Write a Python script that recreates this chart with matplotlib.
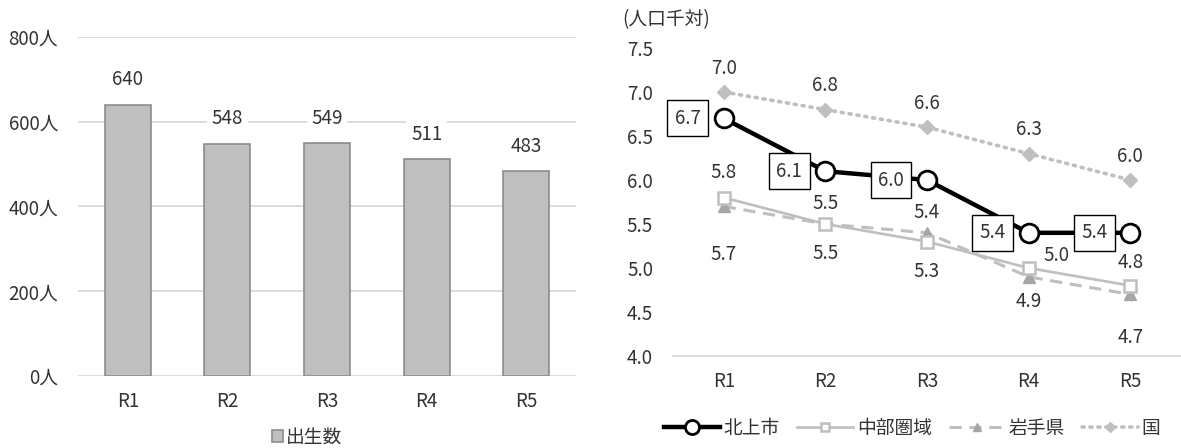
import matplotlib.pyplot as plt

plt.rcParams['font.family'] = ['Noto Sans CJK JP', 'DejaVu Sans']

years = ["R1", "R2", "R3", "R4", "R5"]
births = [640, 548, 549, 511, 483]

kitakami = [6.7, 6.1, 6.0, 5.4, 5.4]
chubu = [5.8, 5.5, 5.3, 5.0, 4.8]
iwate = [5.7, 5.5, 5.4, 4.9, 4.7]
japan = [7.0, 6.8, 6.6, 6.3, 6.0]

PX = 0.72  # pixels -> points at dpi 100
FS = 13.5
TXT = "#333333"

fig = plt.figure(figsize=(11.81, 4.48), dpi=100)

# ---- left: bar chart ----
ax1 = fig.add_axes([78 / 1181, 1 - 376 / 448, 498 / 1181, 339 / 448])
x = list(range(len(years)))
ax1.bar(x, births, width=0.46, color="#BFBFBF", edgecolor="#8C8C8C",
        linewidth=1.2, zorder=2, label="出生数")
ax1.set_xlim(-0.5, 4.5)
ax1.set_ylim(0, 800)
ax1.set_yticks([0, 200, 400, 600, 800])
ax1.set_yticklabels([f"{v}人" for v in [0, 200, 400, 600, 800]])
ax1.set_xticks(x)
ax1.set_xticklabels(years)
ax1.grid(axis="y", color="#D9D9D9", linewidth=1.3, zorder=0)
for s in ax1.spines.values():
    s.set_visible(False)
ax1.tick_params(length=0, labelsize=FS, labelcolor=TXT)
ax1.tick_params(axis="y", pad=20 * PX)
ax1.tick_params(axis="x", pad=15 * PX)
for xi, v in zip(x, births):
    ax1.annotate(str(v), (xi, v), xytext=(0, 25 * PX), textcoords="offset points",
                 ha="center", va="center", fontsize=FS, color=TXT,
                 bbox=dict(boxstyle="square,pad=0.25", fc="white", ec="none"),
                 zorder=3)
ax1.legend(loc="center", bbox_to_anchor=(307 / 1181, 1 - 437 / 448),
           bbox_transform=fig.transFigure, frameon=False, fontsize=FS,
           handlelength=0.6, handleheight=0.6, handletextpad=0.15,
           labelcolor=TXT)

# ---- right: line chart ----
ax2 = fig.add_axes([673 / 1181, 1 - 356 / 448, 508 / 1181, 308 / 448])
ax2.set_xlim(-0.5, 4.5)
ax2.set_ylim(4.0, 7.5)
ax2.set_yticks([4.0, 4.5, 5.0, 5.5, 6.0, 6.5, 7.0, 7.5])
ax2.set_yticklabels([f"{v:.1f}" for v in [4.0, 4.5, 5.0, 5.5, 6.0, 6.5, 7.0, 7.5]])
ax2.set_xticks(x)
ax2.set_xticklabels(years)
for k in ["top", "right", "left"]:
    ax2.spines[k].set_visible(False)
ax2.spines["bottom"].set_color("#D9D9D9")
ax2.spines["bottom"].set_linewidth(1.3)
ax2.tick_params(length=0, labelsize=FS, labelcolor=TXT)
ax2.tick_params(axis="y", pad=20 * PX)
ax2.tick_params(axis="x", pad=15 * PX)

ax2.plot(x, japan, color="#BFBFBF", linestyle=(0, (0.6, 1.6)), linewidth=2.6,
         dash_capstyle="round", marker="D", markersize=7, markerfacecolor="#BFBFBF",
         markeredgecolor="#BFBFBF", zorder=2, label="国")
ax2.plot(x, iwate, color="#BFBFBF", linestyle=(0, (4, 2.5)), linewidth=2.2,
         marker="^", markersize=8.5, markerfacecolor="#A6A6A6",
         markeredgecolor="#A6A6A6", zorder=3, label="岩手県")
ax2.plot(x, chubu, color="#BFBFBF", linewidth=1.9, marker="s", markersize=8.5,
         markerfacecolor="white", markeredgecolor="#BFBFBF", markeredgewidth=1.8,
         zorder=4, label="中部圏域")
ax2.plot(x, kitakami, color="black", linewidth=3.2, marker="o", markersize=13.5,
         markerfacecolor="white", markeredgecolor="black", markeredgewidth=2,
         zorder=5, label="北上市")

def lab(xi, v, dx, dy, box=False):
    kw = dict(textcoords="offset points", ha="center", va="center",
              fontsize=FS, color=TXT, zorder=6)
    if box:
        kw["bbox"] = dict(boxstyle="square,pad=0.4", fc="white", ec="black", lw=1)
    ax2.annotate(f"{v:.1f}", (xi, v), xytext=(dx * PX, -dy * PX), **kw)

for xi, v in zip(x, kitakami):
    lab(xi, v, -36, 0, box=True)
for xi, v in zip(x, japan):
    lab(xi, v, 0, -24)
chubu_off = [(0, -25), (0, -21), (0, 30), (28, -13), (0, -23)]
for xi, v, (dx, dy) in zip(x, chubu, chubu_off):
    lab(xi, v, dx, dy)
iwate_off = [(0, 48), (0, 29), (0, -20), (0, 25), (0, 43)]
for xi, v, (dx, dy) in zip(x, iwate, iwate_off):
    lab(xi, v, dx, dy)

fig.text(622 / 1181, 1 - 20 / 448, "(人口千対)", fontsize=FS, color=TXT,
         ha="left", va="center")

h, l = ax2.get_legend_handles_labels()
order = [3, 2, 1, 0]
ax2.legend([h[i] for i in order], [l[i] for i in order], loc="center",
           bbox_to_anchor=(912 / 1181, 1 - 428 / 448), bbox_transform=fig.transFigure,
           ncol=4, frameon=False, fontsize=FS, handlelength=3.0, markerscale=0.75,
           columnspacing=0.9, handletextpad=0.2, labelcolor=TXT)

fig.savefig("out.png", dpi=100)
